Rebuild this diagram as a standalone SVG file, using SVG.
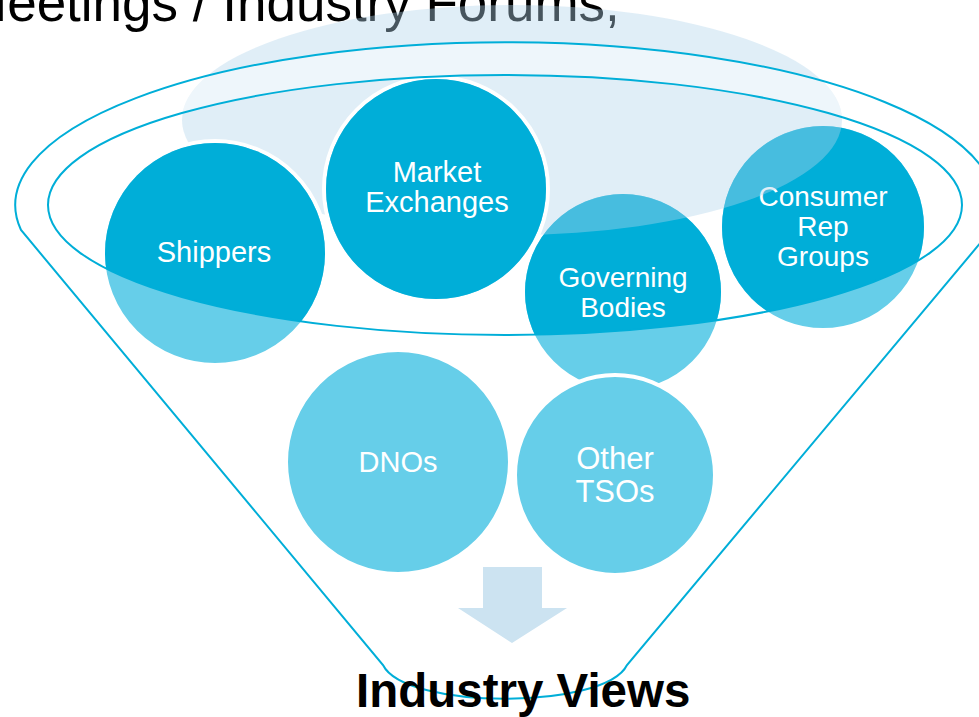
<svg xmlns="http://www.w3.org/2000/svg" width="979" height="717" viewBox="0 0 979 717">
  <style>
    .lbl { font-family: "Liberation Sans", Arial, sans-serif; fill: #ffffff; text-anchor: middle; }
    .rim { stroke: #ffffff; stroke-width: 4; }
    .light { fill: #66cee9; }
    .dark { fill: #00aed8; }
    .line { fill: none; stroke: #00aed8; stroke-width: 2; }
  </style>
  <defs>
    <!-- mouth of the funnel: circles are deeper blue inside it -->
    <clipPath id="mouth">
      <ellipse cx="505" cy="205" rx="457" ry="130"/>
    </clipPath>
    <!-- extent of the pale haze -->
    <clipPath id="haze">
      <ellipse cx="512" cy="120" rx="330" ry="115"/>
    </clipPath>
  </defs>

  <rect width="979" height="717" fill="#ffffff"/>

  <!-- heading (runs off the top edge) -->
  <text x="-37" y="21" font-family="'Liberation Sans', Arial, sans-serif" font-size="53" fill="#000000">Meetings / Industry Forums,</text>

  <!-- circles sitting behind the haze -->
  <g id="governing-bodies">
    <circle class="light rim" cx="623" cy="292" r="100"/>
    <circle class="dark" cx="623" cy="292" r="98" clip-path="url(#mouth)"/>
    <text class="lbl" font-size="28" x="623" y="287">Governing</text>
    <text class="lbl" font-size="28" x="623" y="317">Bodies</text>
  </g>
  <g id="consumer-rep-groups">
    <circle class="light rim" cx="823" cy="227" r="103"/>
    <circle class="dark" cx="823" cy="227" r="101" clip-path="url(#mouth)"/>
    <text class="lbl" font-size="28" x="823" y="206">Consumer</text>
    <text class="lbl" font-size="28" x="823" y="236">Rep</text>
    <text class="lbl" font-size="28" x="823" y="266">Groups</text>
  </g>

  <!-- pale haze over the top of the funnel -->
  <ellipse cx="512" cy="120" rx="330" ry="115" fill="#b2d5ec" fill-opacity="0.4"/>
  <!-- lighter band between the two rims, only within the haze -->
  <path fill="#ffffff" fill-opacity="0.45" fill-rule="evenodd" clip-path="url(#haze)"
        d="M 15,205 A 490 163 0 1 1 995,205 A 490 163 0 1 1 15,205 Z
           M 48,205 A 457 130 0 1 1 962,205 A 457 130 0 1 1 48,205 Z"/>

  <g id="shippers">
    <circle class="light rim" cx="215" cy="253" r="112"/>
    <circle class="dark" cx="215" cy="253" r="110" clip-path="url(#mouth)"/>
    <text class="lbl" font-size="29" x="214" y="262">Shippers</text>
  </g>
  <g id="market-exchanges">
    <circle class="light rim" cx="436" cy="189" r="112"/>
    <circle class="dark" cx="436" cy="189" r="110" clip-path="url(#mouth)"/>
    <text class="lbl" font-size="29" x="437" y="182">Market</text>
    <text class="lbl" font-size="29" x="437" y="212">Exchanges</text>
  </g>
  <g id="dnos">
    <circle class="light rim" cx="398" cy="462" r="112"/>
    <text class="lbl" font-size="29" x="398" y="472">DNOs</text>
  </g>
  <g id="other-tsos">
    <circle class="light rim" cx="615" cy="475" r="100"/>
    <text class="lbl" font-size="31" x="615" y="469">Other</text>
    <text class="lbl" font-size="31" x="615" y="502">TSOs</text>
  </g>

  <!-- funnel outline -->
  <g id="connectors">
    <path class="line" d="M 21,230 A 490 163 0 1 1 987,235 L 627,665 C 605,710 405,710 383,665 Z"/>
    <ellipse class="line" cx="505" cy="205" rx="457" ry="130"/>
    <polygon fill="#cce3f1" points="483,567 542,567 542,608 567,608 512,643 458,608 483,608"/>
  </g>

  <text x="356" y="707" font-family="'Liberation Sans', Arial, sans-serif" font-size="47.5" font-weight="bold" fill="#000000">Industry Views</text>
</svg>
